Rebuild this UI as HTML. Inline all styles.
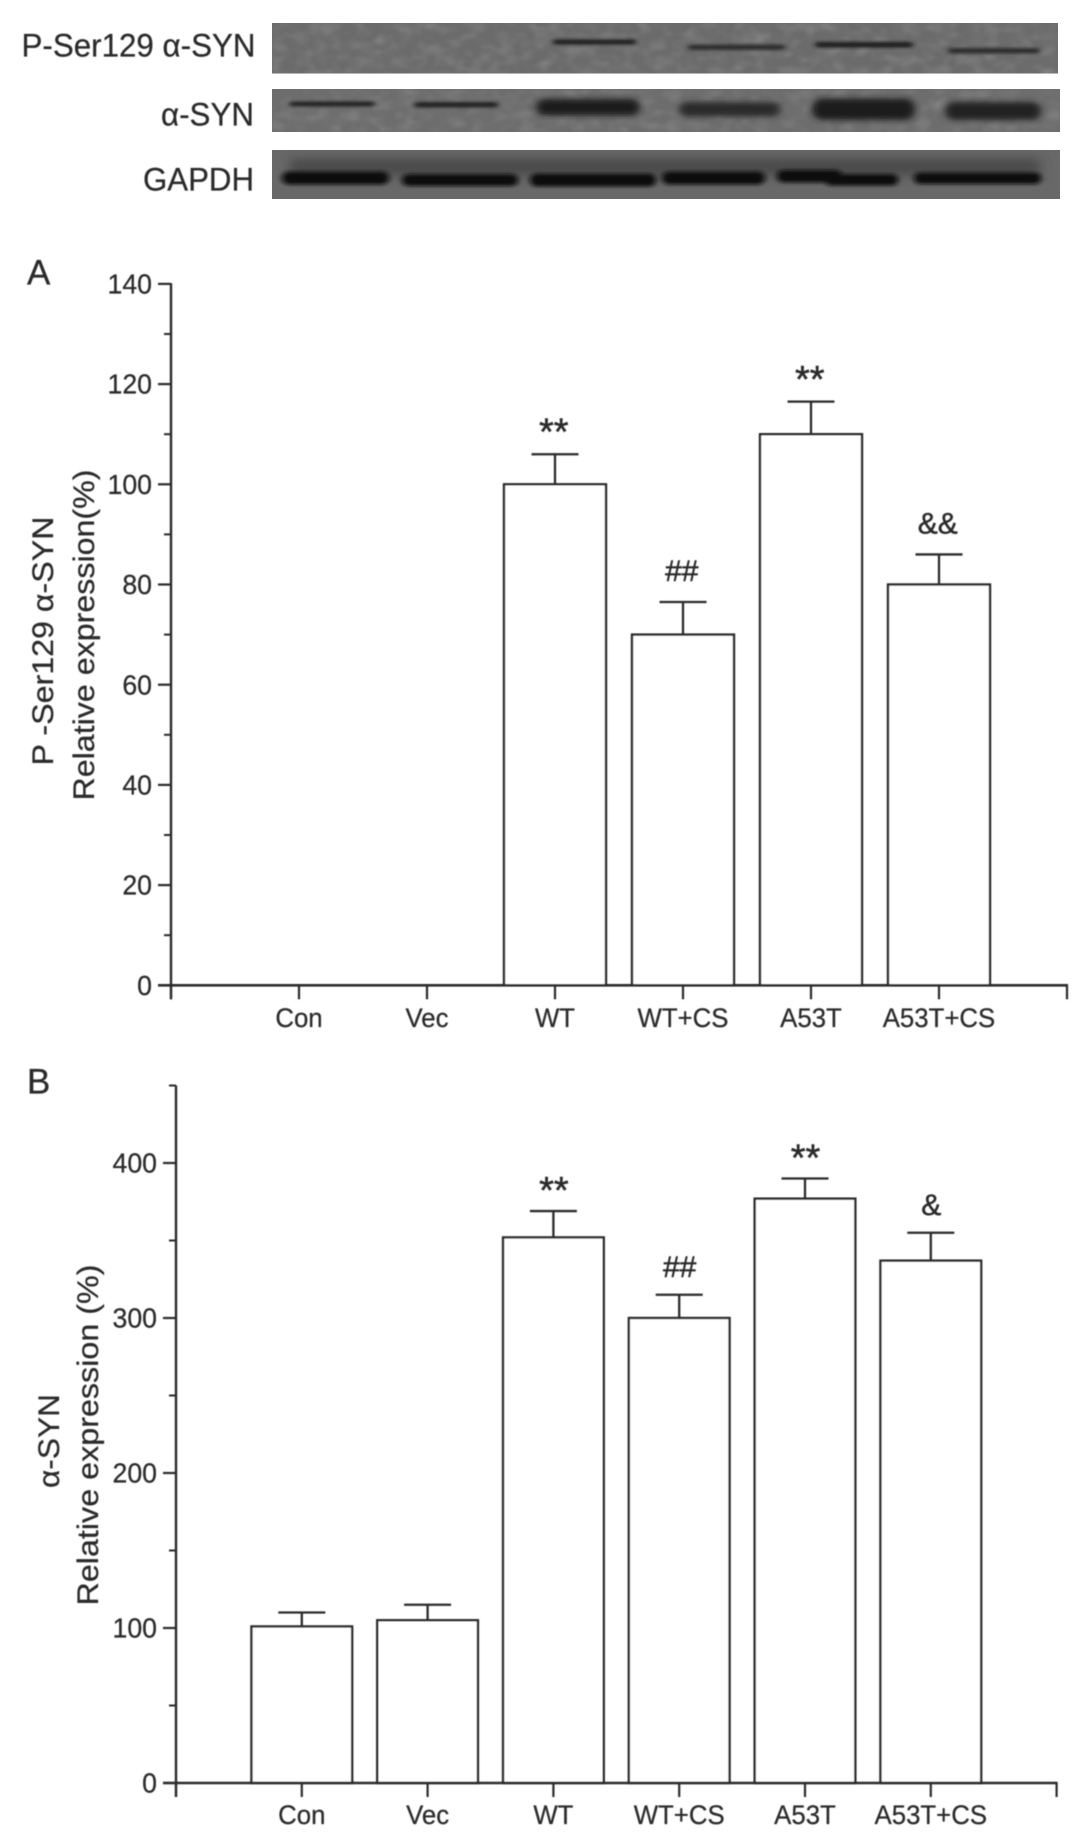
<!DOCTYPE html>
<html>
<head>
<meta charset="utf-8">
<title>Western blot and relative expression charts</title>
<style>
html,body{margin:0;padding:0;background:#fff;}
svg{display:block;}
text{font-family:"Liberation Sans",sans-serif;fill:#2b2b2b;stroke:#2b2b2b;stroke-width:0.25;}
</style>
</head>
<body>
<svg id="fig" xmlns="http://www.w3.org/2000/svg" width="1087" height="1848" viewBox="0 0 1087 1848">
<defs>
<filter id="soft" x="-5%" y="-5%" width="110%" height="110%"><feGaussianBlur stdDeviation="0.6"/></filter>
<filter id="b1" x="-20%" y="-100%" width="140%" height="300%"><feGaussianBlur stdDeviation="3 1.5"/></filter>
<filter id="b2" x="-20%" y="-100%" width="140%" height="300%"><feGaussianBlur stdDeviation="4 2.8"/></filter>
<filter id="b3" x="-30%" y="-100%" width="160%" height="300%"><feGaussianBlur stdDeviation="6"/></filter>
<filter id="b4" x="-20%" y="-100%" width="140%" height="300%"><feGaussianBlur stdDeviation="3 1.8"/></filter>
<filter id="grain" x="0" y="0" width="100%" height="100%"><feTurbulence type="fractalNoise" baseFrequency="0.07 0.1" numOctaves="2" seed="4"/><feColorMatrix type="matrix" values="0 0 0 0 0.25  0 0 0 0 0.25  0 0 0 0 0.25  2.2 0 0 0 -0.95"/><feGaussianBlur stdDeviation="1.4"/></filter>
<filter id="grain-light" x="0" y="0" width="100%" height="100%"><feTurbulence type="fractalNoise" baseFrequency="0.06 0.09" numOctaves="2" seed="11"/><feColorMatrix type="matrix" values="0 0 0 0 0.58  0 0 0 0 0.58  0 0 0 0 0.58  2.2 0 0 0 -1"/><feGaussianBlur stdDeviation="1.4"/></filter>
<clipPath id="blot-clip-1"><rect x="272" y="23" width="786" height="50.5"/></clipPath>
<clipPath id="blot-clip-2"><rect x="272" y="89" width="788" height="43"/></clipPath>
<clipPath id="blot-clip-3"><rect x="272" y="150" width="788" height="49"/></clipPath>
</defs>
<rect width="1087" height="1848" fill="#fff"/>

<g>
  <g clip-path="url(#blot-clip-1)">
    <rect x="272" y="23" width="786" height="51" fill="#6b6b6b"/>
    <rect x="272" y="23" width="786" height="51" filter="url(#grain)" opacity="0.3"/>
    <rect x="272" y="23" width="786" height="51" filter="url(#grain-light)" opacity="0.22"/>
    <g filter="url(#b1)" fill="#1c1c1c">
      <rect x="553" y="39.5" width="83" height="5" rx="2.5"/>
      <rect x="688" y="44.5" width="97" height="5.5" rx="2.5" fill="#2e2e2e"/>
      <rect x="815" y="42" width="98" height="5.5" rx="2.5"/>
      <rect x="948" y="48" width="92" height="5.5" rx="2.5" fill="#2e2e2e"/>
    </g>
  </g>
  <g clip-path="url(#blot-clip-2)">
    <rect x="272" y="89" width="788" height="43" fill="#6d6d6d"/>
    <rect x="272" y="89" width="788" height="43" filter="url(#grain)" opacity="0.28"/>
    <rect x="272" y="89" width="788" height="43" filter="url(#grain-light)" opacity="0.18"/>
    <g filter="url(#b1)" fill="#222">
      <rect x="289" y="101.5" width="86" height="5" rx="2.5"/>
      <rect x="414" y="102" width="84" height="5.5" rx="2.5"/>
    </g>
    <g filter="url(#b2)" fill="#1c1c1c">
      <rect x="536" y="99" width="104" height="16.5" rx="8"/>
      <rect x="679" y="102" width="101" height="14.5" rx="7" fill="#2c2c2c"/>
      <rect x="812" y="98.5" width="103" height="21.5" rx="10"/>
      <rect x="945" y="102" width="96" height="18" rx="9" fill="#242424"/>
    </g>
  </g>
  <g clip-path="url(#blot-clip-3)">
    <rect x="272" y="150" width="788" height="49" fill="#686868"/>
    <g filter="url(#b3)" fill="#424242">
      <rect x="290" y="160" width="750" height="14"/>
    </g>
    <g filter="url(#b4)" fill="#0a0a0a">
      <rect x="282" y="171.5" width="107" height="13" rx="6.5"/>
      <rect x="402" y="174" width="116" height="12" rx="6"/>
      <rect x="530" y="173.5" width="126" height="13" rx="6.5"/>
      <rect x="662" y="171.5" width="103" height="13" rx="6.5"/>
      <rect x="777" y="170" width="65" height="12.5" rx="6"/>
      <rect x="825" y="174" width="73" height="11.5" rx="5.5"/>
      <rect x="914" y="172.5" width="127" height="11.5" rx="5.5"/>
    </g>
  </g>
  <g filter="url(#soft)">
    <text x="255.5" y="56.7" text-anchor="end" font-size="32.5" textLength="234" lengthAdjust="spacingAndGlyphs">P-Ser129 α-SYN</text>
    <text x="254" y="125.7" text-anchor="end" font-size="32.5" textLength="93" lengthAdjust="spacingAndGlyphs">α-SYN</text>
    <text x="254" y="190.7" text-anchor="end" font-size="32.5" textLength="111" lengthAdjust="spacingAndGlyphs">GAPDH</text>
  </g>
</g>
<g id="charts" filter="url(#soft)"></g>
</svg>
<script>
const categories = ['Con', 'Vec', 'WT', 'WT+CS', 'A53T', 'A53T+CS'];

const aValues = [0, 0, 100, 70, 110, 80];
const aErrors = [0, 0, 6, 6.5, 6.5, 6];
const aMarks = ['', '', '**', '##', '**', '&&'];
const aMajorTicks = [0, 20, 40, 60, 80, 100, 120, 140];
const aMinorTicks = [10, 30, 50, 70, 90, 110, 130];

const bValues = [101, 105, 352, 300, 377, 337];
const bErrors = [9, 10, 17, 15, 13, 18];
const bMarks = ['', '', '**', '##', '**', '&'];
const bMajorTicks = [0, 100, 200, 300, 400];
const bMinorTicks = [50, 150, 250, 350, 450];

const NS = 'http://www.w3.org/2000/svg';
const root = document.getElementById('charts');
const INK = '#2a2a2a';

function mk(parent, tag, attrs, txt) {
  const el = document.createElementNS(NS, tag);
  for (const k in attrs) el.setAttribute(k, attrs[k]);
  if (txt !== undefined) el.textContent = txt;
  parent.appendChild(el);
  return el;
}

function condense(el, ratio) {
  const w = el.getComputedTextLength();
  el.setAttribute('textLength', (w * ratio).toFixed(2));
  el.setAttribute('lengthAdjust', 'spacingAndGlyphs');
}

function drawChart(cfg) {
  const yScale = v => cfg.y0 - v * cfg.pxPerUnit;
  const xScale = i => cfg.x0 + (i + 1) * cfg.step;
  const right = xScale(cfg.categories.length);

  const g = mk(root, 'g', {});
  
  

  cfg.values.forEach((v, i) => {
    const cx = xScale(i);
    const top = yScale(v);
    const errTop = yScale(v + cfg.errors[i]);

    const stem = mk(g, 'line', {x1: cx, x2: cx, y1: top, y2: errTop, stroke: INK, 'stroke-width': 2.3});
    
    

    const cap = mk(g, 'line', {x1: cx - cfg.capW / 2, x2: cx + cfg.capW / 2, y1: errTop, y2: errTop, stroke: INK, 'stroke-width': 2.3});
    
    

    const bar = mk(g, 'rect', {x: cx - cfg.barW / 2, y: top, width: cfg.barW, height: cfg.y0 - top, fill: '#fff', stroke: INK, 'stroke-width': 2.4});
    
    

    const mark = cfg.marks[i];
    if (mark) {
      const isStar = mark[0] === '*';
      const m = mk(g, 'text', {
        x: cx + cfg.markDx,
        y: errTop - (isStar ? cfg.starOffset : cfg.symbolOffset),
        'text-anchor': 'middle',
        'font-size': isStar ? 38 : 30,
        style: 'stroke-width:0.5'
      }, mark);
      
      
    }
  });

  const yAxis = mk(g, 'line', {x1: cfg.x0, x2: cfg.x0, y1: cfg.yTop, y2: cfg.y0 + 14, stroke: INK, 'stroke-width': 2.4});
  
  

  const xAxis = mk(g, 'line', {x1: cfg.x0 - 13, x2: right + 1, y1: cfg.y0, y2: cfg.y0, stroke: INK, 'stroke-width': 2.6});
  
  

  cfg.major.forEach(v => {
    const t = mk(g, 'line', {x1: cfg.x0 - 13, x2: cfg.x0, y1: yScale(v), y2: yScale(v), stroke: INK, 'stroke-width': 2.2});
    
    
    const l = mk(g, 'text', {x: cfg.x0 - 19, y: yScale(v) + 9.6, 'text-anchor': 'end', 'font-size': 27.5}, String(v));
    
    
    condense(l, 0.97);
  });

  cfg.minor.forEach(v => {
    const t = mk(g, 'line', {x1: cfg.x0 - 7, x2: cfg.x0, y1: yScale(v), y2: yScale(v), stroke: INK, 'stroke-width': 2});
    
    
  });

  for (let i = -1; i <= cfg.categories.length; i++) {
    const t = mk(g, 'line', {x1: xScale(i), x2: xScale(i), y1: cfg.y0, y2: cfg.y0 + 14, stroke: INK, 'stroke-width': 2.2});
    
    
  }

  cfg.categories.forEach((c, i) => {
    const l = mk(g, 'text', {x: xScale(i), y: cfg.xLabelY, 'text-anchor': 'middle', 'font-size': 27}, c);
    
    
    condense(l, 0.955);
  });

  const letter = mk(g, 'text', {x: 27, y: cfg.letterY, 'font-size': 35}, cfg.letter);
  
  

  cfg.titles.forEach(tt => {
    const l = mk(g, 'text', {
      transform: 'translate(' + tt.x + ',' + tt.y + ') rotate(-90)',
      'text-anchor': 'middle', 'font-size': 30,
      textLength: tt.len, lengthAdjust: 'spacingAndGlyphs'
    }, tt.text);
    
    
  });
}

drawChart({
  name: 'chart-a', letter: 'A', letterY: 284.3, categories,
  values: aValues, errors: aErrors, marks: aMarks, major: aMajorTicks, minor: aMinorTicks,
  x0: 171, step: 128, y0: 985.3, yTop: 283.3, pxPerUnit: 5.01,
  barW: 102, capW: 47, xLabelY: 1027, markDx: -1.2, starOffset: 9.5, symbolOffset: 21,
  titles: [
    {text: 'P -Ser129 α-SYN', x: 53, y: 641, len: 249},
    {text: 'Relative expression(%)', x: 94, y: 635, len: 331}
  ]
});

drawChart({
  name: 'chart-b', letter: 'B', letterY: 1093.5, categories,
  values: bValues, errors: bErrors, marks: bMarks, major: bMajorTicks, minor: bMinorTicks,
  x0: 176, step: 125.8, y0: 1783, yTop: 1085.5, pxPerUnit: 1.55,
  barW: 100.7, capW: 47, xLabelY: 1824, markDx: 0.5, starOffset: 8, symbolOffset: 18,
  titles: [
    {text: 'α-SYN', x: 59, y: 1441, len: 94},
    {text: 'Relative expression (%)', x: 98, y: 1435, len: 341}
  ]
});
</script>
</body>
</html>
